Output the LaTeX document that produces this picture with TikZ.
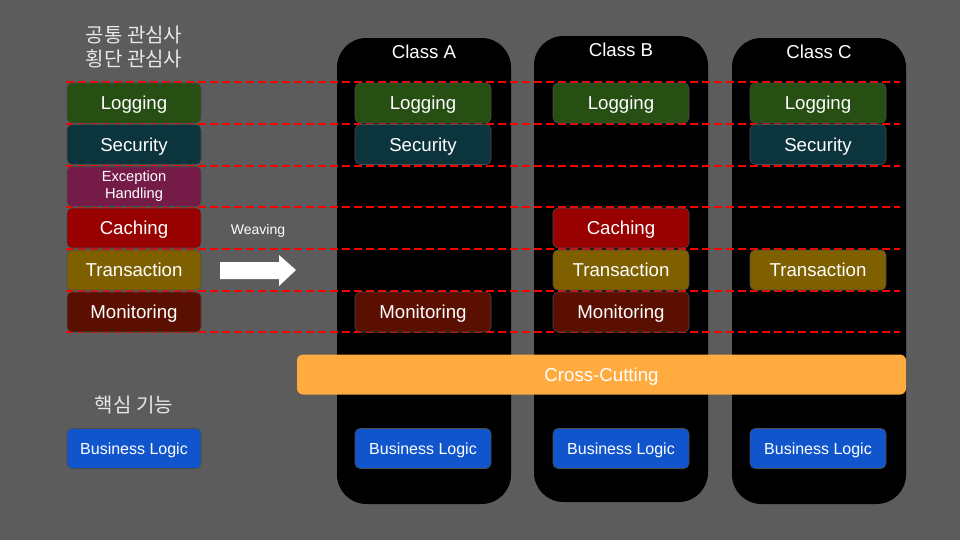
\documentclass[tikz,border=0pt]{standalone}
\usepackage{fontspec}
\setmainfont{Liberation Sans}
\newfontfamily\kofont{Noto Sans CJK KR}
\usepackage{tikz}
\usetikzlibrary{positioning}

\definecolor{slideGray}{HTML}{5C5C5C}
\definecolor{logColor}{HTML}{274E13}
\definecolor{secColor}{HTML}{0C343D}
\definecolor{excColor}{HTML}{741B47}
\definecolor{cacColor}{HTML}{990000}
\definecolor{traColor}{HTML}{7F6000}
\definecolor{monColor}{HTML}{5B0F00}
\definecolor{bizColor}{HTML}{1155CC}
\definecolor{cutColor}{HTML}{FFAB40}
\definecolor{koText}{HTML}{E8E8E8}

\begin{document}
\begin{tikzpicture}[
        x=0.75pt, y=-0.75pt,
        boxbase/.style={rounded corners=3.75pt, draw=gray!60!black, line width=0.4pt,
                        minimum width=100.5pt, minimum height=30pt, inner sep=0pt,
                        text=white, align=center},
        concern/.style={boxbase, text height=10pt, text depth=0pt,
                        font={\fontsize{14}{16}\selectfont}},
        inclass/.style={concern, minimum width=102pt},
        bizbox/.style={boxbase, text height=8.6pt, text depth=0pt,
                       font={\fontsize{12}{14}\selectfont}},
        column/.style={fill=black, rounded corners=22pt, minimum width=130.5pt,
                       minimum height=349.5pt, inner sep=0pt},
        header/.style={text=white, text height=10pt, text depth=0pt,
                       font={\fontsize{14}{16}\selectfont}},
        kolabel/.style={text=koText, font={\kofont\fontsize{15}{18}\selectfont}, align=center},
        edgeline/.style={red, dashed, dash pattern=on 6pt off 3pt, line width=1.4pt},
        rowline/.style={red, dashed, dash pattern=on 6pt off 3pt, line width=0.9pt}
        ]

        % Slide background
        \fill[slideGray] (0,0) rectangle (960,540);
        \useasboundingbox (0,0) rectangle (960,540);

        % Class columns
        \node[column] (colA) at (424,271) {};
        \node[column] (colB) at (621,269) {};
        \node[column] (colC) at (819,271) {};
        \node[header] (nameA) at (424,52) {Class A};
        \node[header] (nameB) at (621,50) {Class B};
        \node[header] (nameC) at (819,52) {Class C};

        % Row separators
        \draw[edgeline] (66,82)--(900,82);
        \foreach \y in {124,166,207,249,291}
            \draw[rowline] (66,\y)--(900,\y);
        \draw[edgeline] (66,332)--(900,332);

        % Concerns (left)
        \node[kolabel] (cross) at (134,47) {공통 관심사\\횡단 관심사};
        \node[concern, fill=logColor] (logL) at (134,103) {Logging};
        \node[concern, fill=secColor] (secL) at (134,144.5) {Security};
        \node[boxbase, fill=excColor, font={\fontsize{11}{13}\selectfont}] (excL) at (134,186.5) {Exception\\Handling};
        \node[concern, fill=cacColor] (cacL) at (134,228) {Caching};
        \node[concern, fill=traColor] (traL) at (134,270) {Transaction};
        \node[concern, fill=monColor] (monL) at (134,312) {Monitoring};

        % Weaving
        \node[text=white, text height=7.5pt, text depth=0pt, font={\fontsize{10.5}{12}\selectfont}] (weave) at (258,229) {Weaving};
        \fill[white] (220,262)--(279,262)--(279,255)--(296,270)--(279,286)--(279,279)--(220,279)--cycle;

        % Class A
        \node[inclass, fill=logColor] (logA) at (423,103) {Logging};
        \node[inclass, fill=secColor] (secA) at (423,144.5) {Security};
        \node[inclass, fill=monColor] (monA) at (423,312) {Monitoring};

        % Class B
        \node[inclass, fill=logColor] (logB) at (621,103) {Logging};
        \node[inclass, fill=cacColor] (cacB) at (621,228) {Caching};
        \node[inclass, fill=traColor] (traB) at (621,270) {Transaction};
        \node[inclass, fill=monColor] (monB) at (621,312) {Monitoring};

        % Class C
        \node[inclass, fill=logColor] (logC) at (818,103) {Logging};
        \node[inclass, fill=secColor] (secC) at (818,144.5) {Security};
        \node[inclass, fill=traColor] (traC) at (818,270) {Transaction};

        % Cross-cutting bar
        \node[fill=cutColor, rounded corners=4.5pt, minimum width=456.75pt, minimum height=30pt,
              inner sep=0pt, text=white, text height=10pt, text depth=0pt,
              font={\fontsize{14}{16}\selectfont}] (cutBar) at (601.5,374.5) {Cross-Cutting};

        % Core logic
        \node[kolabel] (core) at (134,405) {핵심 기능};
        \node[bizbox, fill=bizColor] (bizL) at (134,448.5) {Business Logic};
        \node[bizbox, fill=bizColor, minimum width=102pt] (bizA) at (423,448.5) {Business Logic};
        \node[bizbox, fill=bizColor, minimum width=102pt] (bizB) at (621,448.5) {Business Logic};
        \node[bizbox, fill=bizColor, minimum width=102pt] (bizC) at (818,448.5) {Business Logic};
    \end{tikzpicture}
\end{document}
